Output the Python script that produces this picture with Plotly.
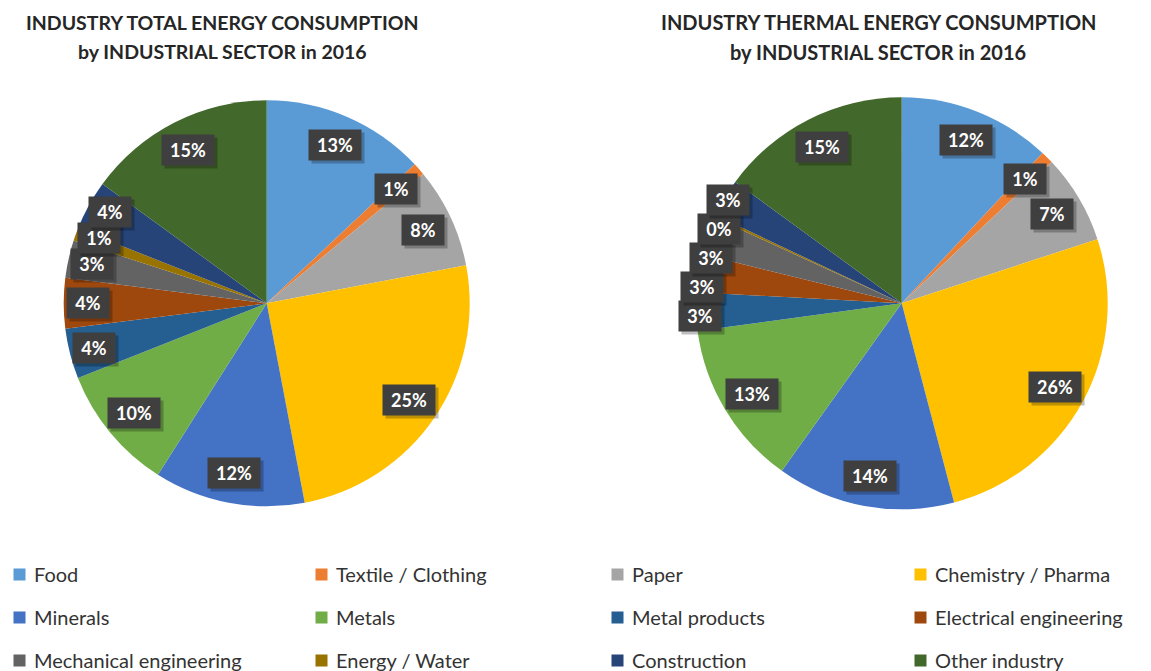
import math
import plotly.graph_objects as go

# ---------------- data ----------------
sectors = ["Food", "Textile / Clothing", "Paper", "Chemistry / Pharma",
           "Minerals", "Metals", "Metal products", "Electrical engineering",
           "Mechanical engineering", "Energy / Water", "Construction", "Other industry"]
total_share = [13, 1, 8, 25, 12, 10, 4, 4, 3, 1, 4, 15]
thermal_share = [12, 1, 7, 26, 14, 13, 3, 3, 3, 0.2, 3, 15]
colors = ["#5B9BD5", "#ED7D31", "#A5A5A5", "#FFC000", "#4472C4", "#70AD47",
          "#255E91", "#9E480E", "#636363", "#997300", "#264478", "#43682B"]
title_lines = [["INDUSTRY TOTAL ENERGY CONSUMPTION", "by INDUSTRIAL SECTOR in 2016"],
               ["INDUSTRY THERMAL ENERGY CONSUMPTION", "by INDUSTRIAL SECTOR in 2016"]]

# ---------------- layout constants ----------------
W, H = 1151, 671
FONT = "Lato, Calibri, 'Open Sans', sans-serif"
pies = [dict(values=total_share, cx=266.7, cy=303.3, r=203, small_r=0.88,
             title_x=222, title_size=19.5, sep=26, stack_clockwise=True),
        dict(values=thermal_share, cx=901.7, cy=303.3, r=206, small_r=0.98,
             title_x=878, title_size=20, sep=29, stack_clockwise=False)]
LABEL_R = 0.85


def px(x, y):
    return x / W, 1 - y / H


fig = go.Figure()
annotations = []

for k, p in enumerate(pies):
    vals = p["values"]
    fig.add_trace(go.Pie(
        labels=sectors, values=vals, sort=False, direction="clockwise", rotation=0,
        marker=dict(colors=colors, line=dict(width=0)), textinfo="none",
        showlegend=False, hoverinfo="label+percent",
        domain=dict(x=[(p["cx"] - p["r"]) / W, (p["cx"] + p["r"]) / W],
                    y=[1 - (p["cy"] + p["r"]) / H, 1 - (p["cy"] - p["r"]) / H])))
    tot = sum(vals)
    # base label positions along each slice's mid angle
    cum = 0
    labels = []
    for v in vals:
        th = 2 * math.pi * (cum + v / 2) / tot
        cum += v
        rf = p["small_r"] if (v < 5 and math.sin(th) < 0) else LABEL_R
        x = p["cx"] + p["r"] * rf * math.sin(th)
        y = p["cy"] - p["r"] * rf * math.cos(th)
        labels.append([x, y, v, th])
    # resolve overlaps of stacked small labels
    order = labels if p["stack_clockwise"] else labels[::-1]
    prev = None
    for lab in order:
        x, y, v, th = lab
        if prev is not None and abs(prev[0] - x) < 48 and abs(prev[1] - y) < p["sep"]:
            left = math.sin(th) < 0
            up = (left and p["stack_clockwise"]) or (not left and not p["stack_clockwise"])
            lab[1] = prev[1] + (-1 if up else 1) * p["sep"]
        prev = lab
    for x, y, v, th in labels:
        pct = round(v * 100 / tot)
        bw = 44 if pct >= 10 else 34
        ax, ay = px(x, y)
        annotations.append(dict(x=ax, y=ay, xref="paper", yref="paper",
                                text="&nbsp;", showarrow=False, xanchor="center", yanchor="middle",
                                width=bw, height=22, font=dict(family=FONT, size=10),
                                bgcolor="rgba(0,0,0,0.25)", borderpad=4, xshift=3, yshift=-3))
        annotations.append(dict(x=ax, y=ay, xref="paper", yref="paper",
                                text="<b>%d%%</b>" % pct, showarrow=False,
                                xanchor="center", yanchor="middle",
                                width=bw, height=22, align="center", valign="middle",
                                font=dict(family=FONT, size=18, color="white"),
                                bgcolor="#3F3F3F", borderpad=4))
    for line, ty in zip(title_lines[k], [22.5, 51.5]):
        tx, tyy = px(p["title_x"], ty)
        annotations.append(dict(x=tx, y=tyy, xref="paper", yref="paper",
                                text="<b>%s</b>" % line, showarrow=False,
                                xanchor="center", yanchor="middle",
                                font=dict(family=FONT, size=p["title_size"], color="#262626")))

# legend: 4 columns x 3 rows, row-major order as in the reference
swatch_x = [19.5, 321.5, 617.5, 920.5]
text_x = [32, 334, 630, 933]
row_y = [574, 617, 660]
for i, (s, c) in enumerate(zip(sectors, colors)):
    col, row = i % 4, i // 4
    sx, sy = px(swatch_x[col], row_y[row])
    annotations.append(dict(x=sx, y=sy, xref="paper", yref="paper", text="&nbsp;",
                            showarrow=False, xanchor="center", yanchor="middle",
                            width=11, height=11, borderpad=0, bgcolor=c,
                            font=dict(family=FONT, size=8)))
    lx, ly = px(text_x[col], row_y[row])
    annotations.append(dict(x=lx, y=ly, xref="paper", yref="paper", text=s,
                            showarrow=False, xanchor="left", yanchor="middle",
                            font=dict(family=FONT, size=20, color="#333333")))

fig.update_layout(width=W, height=H, margin=dict(l=0, r=0, t=0, b=0),
                  paper_bgcolor="white", plot_bgcolor="white",
                  annotations=annotations, showlegend=False)

fig.write_html("out.html", config={"displayModeBar": False},
               post_script="document.body.style.margin='0';")
